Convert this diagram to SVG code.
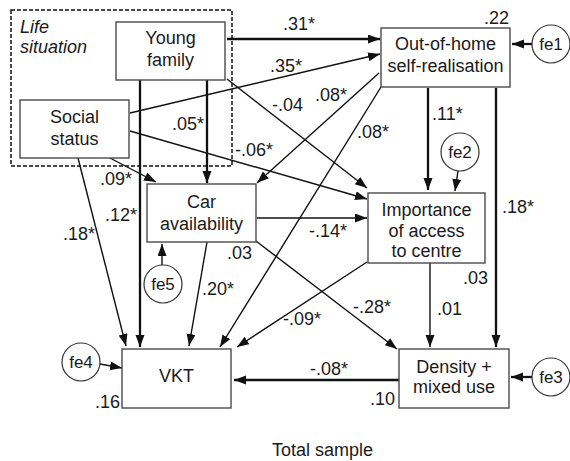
<svg xmlns="http://www.w3.org/2000/svg" width="570" height="461" viewBox="0 0 570 461">
<defs>
<style>
text{font-family:"Liberation Sans",Arial,sans-serif;font-size:18px;fill:#1a1a1a}
.n text{text-anchor:middle}
.box{fill:#fff;stroke:#4a4a4a;stroke-width:1.4}
.circ{fill:#fff;stroke:#333;stroke-width:1.2}
.fe{font-size:17px}
.c path{fill:none;stroke:#111;stroke-width:1.4;marker-end:url(#ah)}
.c path.t{stroke-width:2.3}
.lab text{text-anchor:start}
</style>
<marker id="ah" markerUnits="userSpaceOnUse" markerWidth="13" markerHeight="10" refX="12" refY="4.5" orient="auto">
<path d="M0,0 L12,4.5 L0,9 z" fill="#111"/>
</marker>
</defs>
<rect width="570" height="461" fill="#fff"/>
<g id="life-situation">
<rect x="11" y="10" width="221" height="156" fill="none" stroke="#111" stroke-width="1.5" stroke-dasharray="4,2"/>
<text x="20" y="33" font-style="italic">Life</text>
<text x="20" y="53" font-style="italic">situation</text>
</g>
<g class="c" id="connectors">
<path class="t" d="M227,39 L380,39"/>
<path d="M130,113 L380,54"/>
<path d="M227,79 L367,188"/>
<path d="M379,73 L257,183"/>
<path d="M381,87 L220,347"/>
<path class="t" d="M207,80 L207,183"/>
<path class="t" d="M140,80 L140,347"/>
<path d="M130,131 L367,199"/>
<path d="M108,157 L156,182"/>
<path d="M78,158 L126,346"/>
<path class="t" d="M428,88 L428,190"/>
<path class="t" d="M496,88 L496,347"/>
<path d="M257,218 L367,218"/>
<path d="M207,242 L189,346"/>
<path d="M256,241 L397,349"/>
<path d="M367,262 L237,347"/>
<path d="M430,263 L430,347"/>
<path class="t" d="M399,380 L234,380"/>
<path class="t" d="M532,44 L512,44"/>
<path d="M458,171 L455,191"/>
<path class="t" d="M532,377 L511,377"/>
<path d="M100,364 L122,368"/>
<path d="M162,265 L162,244"/>
</g>
<g class="n" id="young-family">
<rect class="box" x="116" y="22" width="109" height="58"/>
<text x="170.5" y="44">Young</text>
<text x="170.5" y="66">family</text>
</g>
<g class="n" id="social-status">
<rect class="box" x="20" y="100" width="109" height="58"/>
<text x="74.5" y="123">Social</text>
<text x="74.5" y="145">status</text>
</g>
<g class="n" id="out-of-home">
<rect class="box" x="381" y="28" width="129" height="59"/>
<text x="445.5" y="50">Out-of-home</text>
<text x="445.5" y="72">self-realisation</text>
</g>
<g class="n" id="car-availability">
<rect class="box" x="147" y="184" width="109" height="58"/>
<text x="201.5" y="208">Car</text>
<text x="201.5" y="230">availability</text>
</g>
<g class="n" id="importance">
<rect class="box" x="368" y="193" width="117" height="70"/>
<text x="426.5" y="216">Importance</text>
<text x="426.5" y="237">of access</text>
<text x="426.5" y="257">to centre</text>
</g>
<g class="n" id="vkt">
<rect class="box" x="122" y="349" width="109" height="59"/>
<text x="176.5" y="382">VKT</text>
</g>
<g class="n" id="density">
<rect class="box" x="399" y="349" width="110" height="59"/>
<text x="454" y="373">Density +</text>
<text x="454" y="393">mixed use</text>
</g>
<g class="n" id="fe1"><circle class="circ" cx="551" cy="44" r="19"/><text class="fe" x="551" y="50">fe1</text></g>
<g class="n" id="fe2"><circle class="circ" cx="460" cy="152" r="19"/><text class="fe" x="460" y="158">fe2</text></g>
<g class="n" id="fe3"><circle class="circ" cx="551" cy="377" r="19"/><text class="fe" x="551" y="383">fe3</text></g>
<g class="n" id="fe4"><circle class="circ" cx="81" cy="362" r="19"/><text class="fe" x="81" y="368">fe4</text></g>
<g class="n" id="fe5"><circle class="circ" cx="163" cy="284" r="19"/><text class="fe" x="163" y="290">fe5</text></g>
<g class="lab" id="labels">
<text x="283" y="30">.31*</text>
<text x="270" y="72">.35*</text>
<text x="272" y="111">-.04</text>
<text x="315" y="101">.08*</text>
<text x="357" y="138">.08*</text>
<text x="432" y="120">.11*</text>
<text x="172" y="130">.05*</text>
<text x="235" y="156">-.06*</text>
<text x="100" y="185">.09*</text>
<text x="105" y="221">.12*</text>
<text x="63" y="240">.18*</text>
<text x="502" y="213">.18*</text>
<text x="309" y="237">-.14*</text>
<text x="227" y="259">.03</text>
<text x="463" y="284">.03</text>
<text x="202" y="295">.20*</text>
<text x="353" y="313">-.28*</text>
<text x="437" y="315">.01</text>
<text x="283" y="325">-.09*</text>
<text x="310" y="375">-.08*</text>
<text x="484" y="24">.22</text>
<text x="95" y="408">.16</text>
<text x="370" y="405">.10</text>
<text x="272" y="456">Total sample</text>
</g>
</svg>
